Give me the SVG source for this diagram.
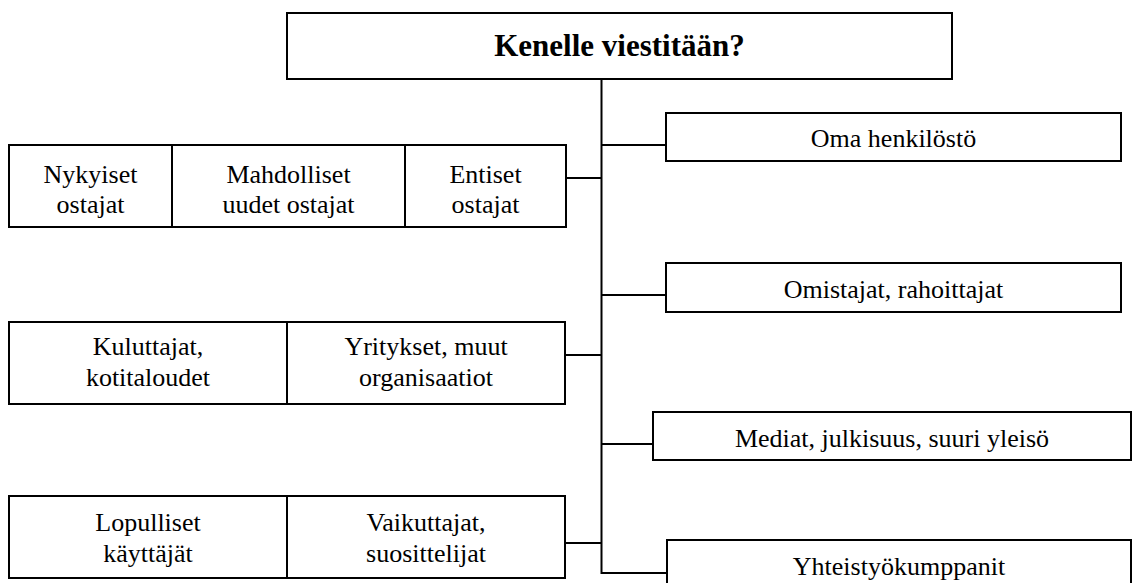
<svg xmlns="http://www.w3.org/2000/svg" width="1133" height="583" viewBox="0 0 1133 583" font-family="Liberation Serif, Times New Roman, DejaVu Serif, serif">
<style>
.box{fill:#fff;stroke:#000;stroke-width:2}
.ln{fill:none;stroke:#000;stroke-width:2}
.t{font-size:26px;fill:#000;text-anchor:middle}
.title{font-weight:bold;font-size:31px;fill:#000;text-anchor:middle}
</style>
<rect width="1133" height="583" fill="#fff"/>
<g id="connectors">
<path class="ln" d="M601.5,79 V573 H667"/>
<path class="ln" d="M566,178 H601.5"/>
<path class="ln" d="M601.5,145 H666"/>
<path class="ln" d="M601.5,295 H666"/>
<path class="ln" d="M565,355 H601.5"/>
<path class="ln" d="M601.5,444 H653"/>
<path class="ln" d="M565,543 H601.5"/>
</g>
<g id="title">
<rect class="box" x="287" y="13" width="665" height="66"/>
<text class="title" font-family="Liberation Serif, serif" x="619.5" y="56">Kenelle viestitään?</text>
</g>
<g id="ostajat" font-family="Liberation Serif, serif">
<rect class="box" x="9" y="145" width="557" height="82"/>
<line class="ln" x1="172" y1="145" x2="172" y2="227"/>
<line class="ln" x1="405" y1="145" x2="405" y2="227"/>
<text class="t" x="90.5" y="183">Nykyiset</text>
<text class="t" x="90.5" y="213">ostajat</text>
<text class="t" x="288.5" y="183">Mahdolliset</text>
<text class="t" x="288.5" y="213">uudet ostajat</text>
<text class="t" x="485.5" y="183">Entiset</text>
<text class="t" x="485.5" y="213">ostajat</text>
</g>
<g id="kuluttajat" font-family="Liberation Serif, serif">
<rect class="box" x="9" y="322" width="556" height="82"/>
<line class="ln" x1="287" y1="322" x2="287" y2="404"/>
<text class="t" x="148" y="355">Kuluttajat,</text>
<text class="t" x="148" y="386">kotitaloudet</text>
<text class="t" x="426" y="355">Yritykset, muut</text>
<text class="t" x="426" y="386">organisaatiot</text>
</g>
<g id="kayttajat" font-family="Liberation Serif, serif">
<rect class="box" x="9" y="496" width="556" height="82"/>
<line class="ln" x1="287" y1="496" x2="287" y2="578"/>
<text class="t" x="148" y="531">Lopulliset</text>
<text class="t" x="148" y="562">käyttäjät</text>
<text class="t" x="426" y="531">Vaikuttajat,</text>
<text class="t" x="426" y="562">suosittelijat</text>
</g>
<g id="henkilosto" font-family="Liberation Serif, serif">
<rect class="box" x="666" y="113" width="455" height="48"/>
<text class="t" x="893.5" y="147">Oma henkilöstö</text>
</g>
<g id="omistajat" font-family="Liberation Serif, serif">
<rect class="box" x="666" y="263" width="455" height="49"/>
<text class="t" x="893.5" y="298">Omistajat, rahoittajat</text>
</g>
<g id="mediat" font-family="Liberation Serif, serif">
<rect class="box" x="653" y="412" width="478" height="48"/>
<text class="t" x="892" y="447">Mediat, julkisuus, suuri yleisö</text>
</g>
<g id="yhteistyo" font-family="Liberation Serif, serif">
<rect class="box" x="667" y="540" width="464" height="60"/>
<text class="t" x="899" y="575">Yhteistyökumppanit</text>
</g>
</svg>
